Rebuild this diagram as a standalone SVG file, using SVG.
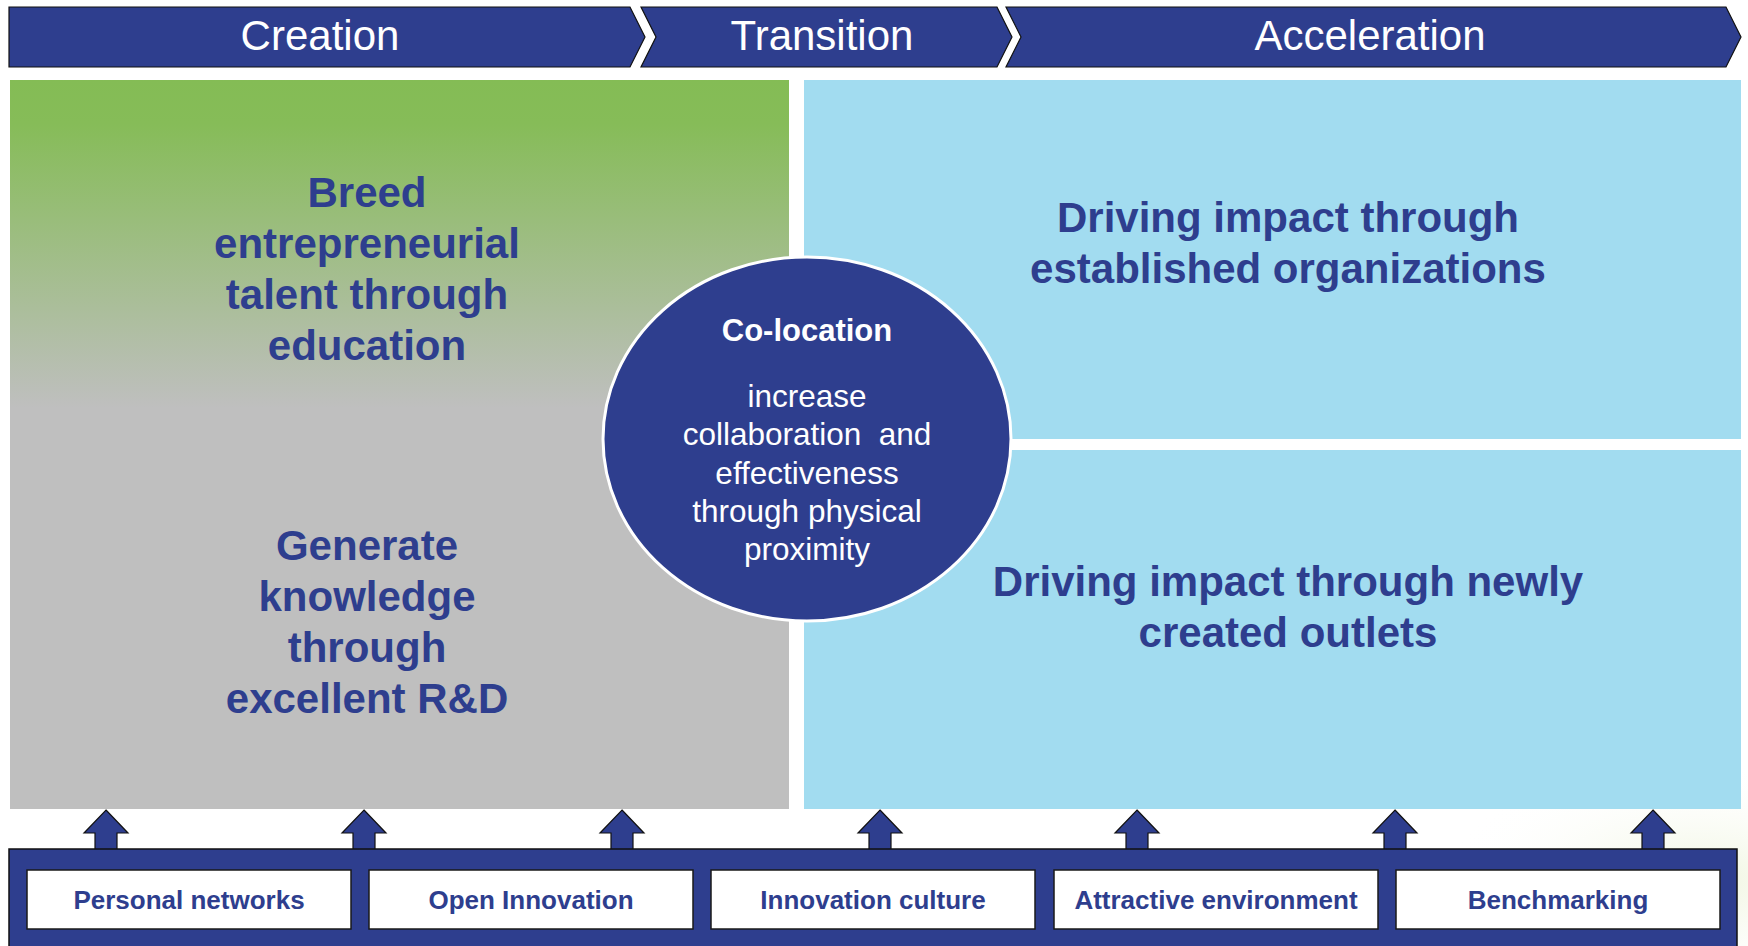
<svg xmlns="http://www.w3.org/2000/svg" width="1748" height="946" viewBox="0 0 1748 946">
  <defs>
    <linearGradient id="gLeft" x1="0" y1="0" x2="0" y2="1">
      <stop offset="0" stop-color="#84BC55"/>
      <stop offset="0.06" stop-color="#86BC58"/>
      <stop offset="0.45" stop-color="#BFBFBF"/>
      <stop offset="1" stop-color="#BFBFBF"/>
    </linearGradient>
    <radialGradient id="glow" cx="0.5" cy="0.5" r="0.5">
      <stop offset="0" stop-color="#EEF4DC" stop-opacity="0.9"/>
      <stop offset="1" stop-color="#FFFFFF" stop-opacity="0"/>
    </radialGradient>
    <style>
      .chev { fill: #2E3E8E; stroke: #111; stroke-width: 1.2; }
      .htxt { font-family: "Liberation Sans", Arial, sans-serif; font-size: 42px; fill: #FFFFFF; text-anchor: middle; }
      .big { font-family: "Liberation Sans", Arial, sans-serif; font-size: 42px; font-weight: bold; fill: #2E3E8E; text-anchor: middle; }
      .ctitle { font-family: "Liberation Sans", Arial, sans-serif; font-size: 31px; font-weight: bold; fill: #FFFFFF; text-anchor: middle; }
      .cbody { font-family: "Liberation Sans", Arial, sans-serif; font-size: 31.5px; fill: #FFFFFF; text-anchor: middle; white-space: pre; }
      .wbox { fill: #FFFFFF; stroke: #1A1A1A; stroke-width: 1.5; }
      .btxt { font-family: "Liberation Sans", Arial, sans-serif; font-size: 26px; font-weight: bold; fill: #2E3E8E; text-anchor: middle; }
      .arrow { fill: #2E3E8E; stroke: #111; stroke-width: 1.2; stroke-linejoin: miter; }
    </style>
  </defs>

  <rect x="0" y="0" width="1748" height="946" fill="#FFFFFF"/>
  <ellipse cx="1700" cy="880" rx="260" ry="120" fill="url(#glow)"/>

  <!-- Header phases -->
  <g id="phase-creation">
    <polygon class="chev" points="9,7 630,7 645,37 630,67 9,67"/>
    <text class="htxt" x="320" y="50">Creation</text>
  </g>
  <g id="phase-transition">
    <polygon class="chev" points="641,7 997,7 1012,37 997,67 641,67 656,37"/>
    <text class="htxt" x="822" y="50">Transition</text>
  </g>
  <g id="phase-acceleration">
    <polygon class="chev" points="1006,7 1726,7 1741,37 1726,67 1006,67 1021,37"/>
    <text class="htxt" x="1370" y="50">Acceleration</text>
  </g>

  <!-- Main panels -->
  <g id="panel-creation">
    <rect x="10" y="80" width="779" height="729" fill="url(#gLeft)"/>
    <text class="big" x="367" y="207">Breed</text>
    <text class="big" x="367" y="258">entrepreneurial</text>
    <text class="big" x="367" y="309">talent through</text>
    <text class="big" x="367" y="360">education</text>
    <text class="big" x="367" y="560">Generate</text>
    <text class="big" x="367" y="611">knowledge</text>
    <text class="big" x="367" y="662">through</text>
    <text class="big" x="367" y="713">excellent R&amp;D</text>
  </g>
  <g id="panel-established">
    <rect x="804" y="80" width="937" height="359" fill="#A2DCF0"/>
    <text class="big" x="1288" y="232">Driving impact through</text>
    <text class="big" x="1288" y="283">established organizations</text>
  </g>
  <g id="panel-new-outlets">
    <rect x="804" y="450" width="937" height="359" fill="#A2DCF0"/>
    <text class="big" x="1288" y="596">Driving impact through newly</text>
    <text class="big" x="1288" y="647">created outlets</text>
  </g>

  <!-- Co-location circle -->
  <g id="co-location">
    <ellipse cx="807" cy="439" rx="204" ry="182" fill="#2E3E8E" stroke="#FFFFFF" stroke-width="3"/>
    <text class="ctitle" x="807" y="341">Co-location</text>
    <text class="cbody" x="807" y="407">increase</text>
    <text class="cbody" x="807" y="445" xml:space="preserve">collaboration  and</text>
    <text class="cbody" x="807" y="484">effectiveness</text>
    <text class="cbody" x="807" y="522">through physical</text>
    <text class="cbody" x="807" y="560">proximity</text>
  </g>

  <!-- Connectors: up arrows -->
  <g id="connectors">
    <polygon class="arrow" points="106,810 128,833 117,833 117,850 95,850 95,833 84,833"/>
    <polygon class="arrow" points="364,810 386,833 375,833 375,850 353,850 353,833 342,833"/>
    <polygon class="arrow" points="622,810 644,833 633,833 633,850 611,850 611,833 600,833"/>
    <polygon class="arrow" points="880,810 902,833 891,833 891,850 869,850 869,833 858,833"/>
    <polygon class="arrow" points="1137,810 1159,833 1148,833 1148,850 1126,850 1126,833 1115,833"/>
    <polygon class="arrow" points="1395,810 1417,833 1406,833 1406,850 1384,850 1384,833 1373,833"/>
    <polygon class="arrow" points="1653,810 1675,833 1664,833 1664,850 1642,850 1642,833 1631,833"/>
  </g>

  <!-- Bottom enabler bar -->
  <g id="enabler-bar">
    <rect x="9" y="849" width="1728" height="100" fill="#2E3E8E" stroke="#111" stroke-width="1.5"/>
  </g>
  <g id="enabler-personal-networks">
    <rect class="wbox" x="27" y="870" width="324" height="59"/>
    <text class="btxt" x="189" y="909">Personal networks</text>
  </g>
  <g id="enabler-open-innovation">
    <rect class="wbox" x="369" y="870" width="324" height="59"/>
    <text class="btxt" x="531" y="909">Open Innovation</text>
  </g>
  <g id="enabler-innovation-culture">
    <rect class="wbox" x="711" y="870" width="324" height="59"/>
    <text class="btxt" x="873" y="909">Innovation culture</text>
  </g>
  <g id="enabler-attractive-environment">
    <rect class="wbox" x="1054" y="870" width="324" height="59"/>
    <text class="btxt" x="1216" y="909">Attractive environment</text>
  </g>
  <g id="enabler-benchmarking">
    <rect class="wbox" x="1396" y="870" width="324" height="59"/>
    <text class="btxt" x="1558" y="909">Benchmarking</text>
  </g>
</svg>
